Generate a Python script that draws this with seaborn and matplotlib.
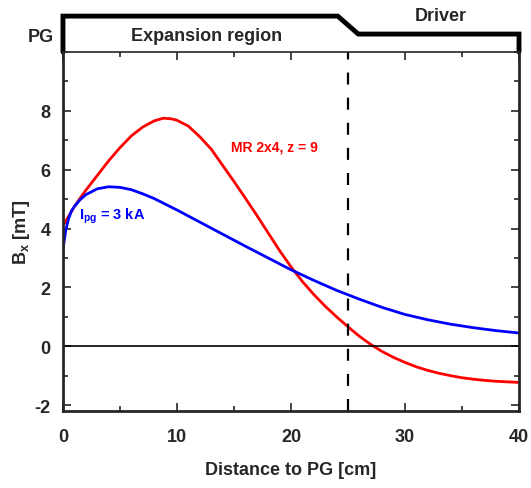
import numpy as np
import pandas as pd
import seaborn as sns
import matplotlib
matplotlib.use("Agg")
import matplotlib.pyplot as plt
from matplotlib.ticker import MultipleLocator
from matplotlib.lines import Line2D

# Data
red_x = [0, 0.5, 1, 1.5, 2, 3, 4, 5, 6, 7, 8, 8.8, 9.5, 10, 11, 12, 13, 14, 15, 16, 17,
         18, 19, 20, 21, 22, 23, 24, 25, 26, 27, 28, 29, 30, 31, 32, 33, 34, 35, 36, 37,
         38, 39, 40]
red_y = [4.1, 4.42, 4.75, 5.03, 5.3, 5.8, 6.3, 6.75, 7.15, 7.45, 7.66, 7.75, 7.73, 7.68,
         7.48, 7.12, 6.7, 6.15, 5.6, 5.03, 4.45, 3.85, 3.25, 2.7, 2.2, 1.76, 1.36, 1.0,
         0.66, 0.34, 0.06, -0.18, -0.38, -0.55, -0.7, -0.82, -0.92, -1.0, -1.07, -1.12,
         -1.16, -1.19, -1.21, -1.23]
blue_x = [0, 0.25, 0.5, 0.75, 1, 1.5, 2, 3, 4, 5, 6, 7, 8, 10, 12, 14, 16, 18, 20, 22,
          24, 26, 28, 30, 32, 34, 36, 38, 40]
blue_y = [3.3, 3.95, 4.35, 4.6, 4.75, 4.98, 5.15, 5.35, 5.42, 5.4, 5.32, 5.18, 5.02, 4.63,
          4.22, 3.81, 3.4, 3.0, 2.6, 2.24, 1.9, 1.6, 1.32, 1.08, 0.9, 0.75, 0.63, 0.53, 0.45]
red_label = "MR 2x4, z = 9"
blue_label = r"I$_{\mathbf{pg}}$ = 3 kA"

sns.set_theme(style="ticks")
plt.rcParams['font.family'] = ['Liberation Sans', 'DejaVu Sans']
plt.rcParams['axes.unicode_minus'] = False
plt.rcParams['mathtext.fontset'] = 'custom'
plt.rcParams['mathtext.rm'] = 'Liberation Sans:bold'
plt.rcParams['mathtext.bf'] = 'Liberation Sans:bold'
plt.rcParams['mathtext.it'] = 'Liberation Sans:bold'

fig = plt.figure(figsize=(5.31, 4.89), dpi=100)
ax = fig.add_axes([0.1186, 0.1575, 0.8588, 0.7341])

df_r = pd.DataFrame({"x": red_x, "y": red_y})
df_b = pd.DataFrame({"x": blue_x, "y": blue_y})
sns.lineplot(data=df_r, x="x", y="y", ax=ax, color="#ff0000", lw=2.0, estimator=None, sort=False)
sns.lineplot(data=df_b, x="x", y="y", ax=ax, color="#0000ff", lw=2.0, estimator=None, sort=False)

ax.axhline(0, color="black", lw=1.2)
ax.axvline(25, color="black", lw=1.6, ls=(0, (5.4, 5.9)))

ax.set_xlim(0, 40)
ax.set_ylim(-2.2, 10)
ax.xaxis.set_major_locator(MultipleLocator(10))
ax.xaxis.set_minor_locator(MultipleLocator(5))
ax.yaxis.set_minor_locator(MultipleLocator(1))
ax.set_yticks([-2, 0, 2, 4, 6, 8])
ax.tick_params(which="both", direction="in", top=True, right=True, width=1.2)
ax.tick_params(which="major", length=6, labelsize=13)
ax.tick_params(axis="x", which="major", pad=12)
ax.tick_params(axis="y", which="major", pad=9)
ax.tick_params(which="minor", length=3.5)
for lab in ax.get_xticklabels() + ax.get_yticklabels():
    lab.set_fontweight("bold")
for s in ["left", "bottom", "right"]:
    ax.spines[s].set_linewidth(2.0)
ax.spines["top"].set_linewidth(1.2)

ax.set_xlabel("Distance to PG [cm]", fontsize=13, fontweight="bold", labelpad=12)
ax.set_ylabel(r"B$_{\mathbf{x}}$ [mT]", fontsize=13, fontweight="bold", labelpad=2)

ax.text(14.7, 6.8, red_label, color="#ff0000", fontsize=10, fontweight="bold",
        va="center", ha="left")
ax.text(1.4, 4.45, blue_label, color="#0000ff", fontsize=10.5, fontweight="bold",
        va="center", ha="left")

# schematic above the axes (data x, axes-fraction y)
trans = ax.get_xaxis_transform()
sx = [0, 0, 24.1, 25.9, 40, 40]
sy = [1.0, 1.10, 1.10, 1.05, 1.05, 1.0]
ax.add_line(Line2D(sx, sy, transform=trans, color="black", lw=3.5, clip_on=False,
                   solid_joinstyle="miter"))
ax.text(-0.8, 1.042, "PG", transform=trans, ha="right", va="center", fontsize=13, fontweight="bold")
ax.text(12.6, 1.047, "Expansion region", transform=trans, ha="center", va="center", fontsize=13, fontweight="bold")
ax.text(33.1, 1.103, "Driver", transform=trans, ha="center", va="center", fontsize=13, fontweight="bold")

fig.savefig("out.png", dpi=100)
